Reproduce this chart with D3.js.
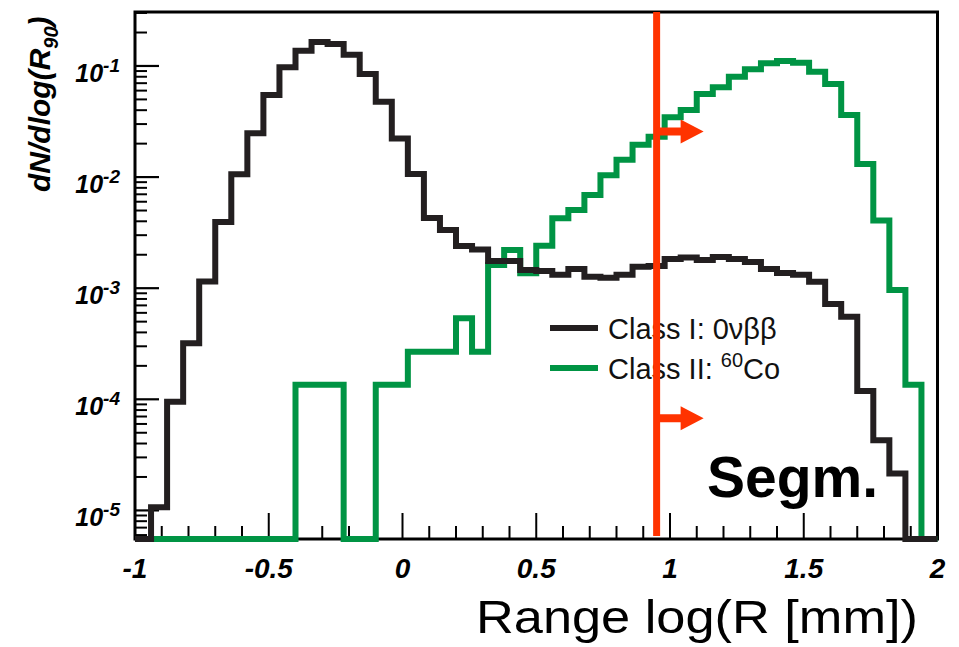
<!DOCTYPE html>
<html>
<head>
<meta charset="utf-8">
<script src="https://cdn.jsdelivr.net/npm/d3@7"></script>
<style>
  html, body { margin: 0; padding: 0; background: #ffffff; }
  svg { display: block; }
</style>
</head>
<body>
<svg id="chart" width="959" height="647"></svg>
<script>
// Histogram binning: 50 bins of log10(R/mm) from -1 to 2
const binLow = -1;
const binHigh = 2;
const binCount = 50;

// Class I: 0vbb, dN/dlog(R90) per bin (0 = empty bin)
const classI = [
  0, 1.07e-5, 9.5e-5, 3.19e-4, 1.15e-3, 3.94e-3, 1.06e-2, 2.48e-2, 5.48e-2, 9.73e-2,
  0.137, 0.164, 0.158, 0.126, 0.0847, 0.0477, 0.0223, 0.01067, 4.28e-3, 3.34e-3,
  2.40e-3, 2.23e-3, 1.76e-3, 1.76e-3, 1.46e-3, 1.43e-3, 1.32e-3, 1.49e-3, 1.27e-3, 1.24e-3,
  1.32e-3, 1.56e-3, 1.58e-3, 1.83e-3, 1.89e-3, 1.79e-3, 1.91e-3, 1.83e-3, 1.72e-3, 1.49e-3,
  1.37e-3, 1.32e-3, 1.14e-3, 7.21e-4, 5.54e-4, 1.19e-4, 4.27e-5, 2.15e-5, 0, 0
];

// Class II: 60Co, dN/dlog(R90) per bin (0 = empty bin)
const classII = [
  0, 0, 0, 0, 0, 0, 0, 0, 0, 0,
  1.35e-4, 1.35e-4, 1.35e-4, 0, 0, 1.35e-4, 1.35e-4, 2.68e-4, 2.68e-4, 2.68e-4,
  5.36e-4, 2.68e-4, 1.62e-3, 2.21e-3, 1.36e-3, 2.41e-3, 4.26e-3, 5.06e-3, 6.90e-3, 1.04e-2,
  1.43e-2, 1.95e-2, 2.31e-2, 3.45e-2, 0.0402, 0.0560, 0.0643, 0.0801, 0.0934, 0.106,
  0.111, 0.107, 0.0889, 0.0689, 0.0362, 0.0131, 4.06e-3, 9.64e-4, 1.35e-4, 0
];

// Axis ranges and tick labels
const yRange = [5.53e-6, 0.306];
const xMajorTicks = [-1, -0.5, 0, 0.5, 1, 1.5, 2];
const xTickLabels = ["-1", "-0.5", "0", "0.5", "1", "1.5", "2"];
const yDecades = [1e-5, 1e-4, 1e-3, 1e-2, 1e-1];
const yExponents = ["-5", "-4", "-3", "-2", "-1"];

// Selection cut on log(R) and the arrow levels marking the accepted side
const cutValue = 0.95;
const arrowLevels = [0.0257, 6.75e-5];

const legendItems = [
  { label: "Class I: 0νββ", color: "#231f20" },
  { label: "Class II: ", sup: "60", tail: "Co", color: "#009444" }
];

// ---------------------------------------------------------------
const svg = d3.select("#chart");
const frame = { left: 135, right: 937.5, top: 12, bottom: 539 };

const x = d3.scaleLinear().domain([binLow, binHigh]).range([frame.left, frame.right]);
const y = d3.scaleLog().domain(yRange).range([frame.bottom, frame.top]);

const binWidth = (binHigh - binLow) / binCount;
const edges = d3.range(binCount + 1).map(i => binLow + i * binWidth);

const tickFont = "'Liberation Sans', Arial, Helvetica, sans-serif";

// frame
svg.append("rect")
  .attr("x", frame.left).attr("y", frame.top)
  .attr("width", frame.right - frame.left).attr("height", frame.bottom - frame.top)
  .attr("fill", "none").attr("stroke", "#000").attr("stroke-width", 3);

// x ticks (inside, pointing up)
const xMinor = d3.range(0, 31).map(i => binLow + i * 0.1)
  .filter(v => !xMajorTicks.some(m => Math.abs(m - v) < 1e-9));
svg.append("g").selectAll("line").data(xMinor).join("line")
  .attr("x1", d => x(d)).attr("x2", d => x(d))
  .attr("y1", frame.bottom).attr("y2", frame.bottom - 13)
  .attr("stroke", "#000").attr("stroke-width", 2);
svg.append("g").selectAll("line").data(xMajorTicks).join("line")
  .attr("x1", d => x(d)).attr("x2", d => x(d))
  .attr("y1", frame.bottom).attr("y2", frame.bottom - 26)
  .attr("stroke", "#000").attr("stroke-width", 2);

svg.append("g").selectAll("text").data(xMajorTicks).join("text")
  .attr("x", d => x(d)).attr("y", 578)
  .attr("text-anchor", "middle")
  .attr("font-family", tickFont).attr("font-weight", "bold").attr("font-style", "italic")
  .attr("font-size", 28).attr("fill", "#000")
  .text((d, i) => xTickLabels[i]);

// y ticks (log, inside, pointing right)
const yMinor = [];
[-6, -5, -4, -3, -2, -1].forEach(e => {
  for (let k = 2; k <= 9; k++) {
    const v = k * Math.pow(10, e);
    if (v >= yRange[0] && v <= yRange[1]) yMinor.push(v);
  }
});
svg.append("g").selectAll("line").data(yMinor).join("line")
  .attr("x1", frame.left).attr("x2", frame.left + 12)
  .attr("y1", d => y(d)).attr("y2", d => y(d))
  .attr("stroke", "#000").attr("stroke-width", 2);
svg.append("g").selectAll("line").data(yDecades).join("line")
  .attr("x1", frame.left).attr("x2", frame.left + 24)
  .attr("y1", d => y(d)).attr("y2", d => y(d))
  .attr("stroke", "#000").attr("stroke-width", 2.2);

const yLab = svg.append("g").selectAll("text").data(yDecades).join("text")
  .attr("x", 120).attr("y", d => y(d) + 16)
  .attr("text-anchor", "end")
  .attr("font-family", tickFont).attr("font-weight", "bold").attr("font-style", "italic")
  .attr("fill", "#000");
yLab.append("tspan").attr("font-size", 25).text("10");
yLab.append("tspan").attr("font-size", 19).attr("dy", -10).text((d, i) => yExponents[i]);

// histograms drawn as step outlines; empty bins sit on the frame floor
const stepLine = d3.line()
  .x(d => x(d[0]))
  .y(d => d[1] > 0 ? y(d[1]) : frame.bottom)
  .curve(d3.curveStepAfter);

function stepPoints(values) {
  const pts = values.map((v, i) => [edges[i], v]);
  pts.push([edges[binCount], values[binCount - 1]]);
  return pts;
}

svg.append("path")
  .datum(stepPoints(classII))
  .attr("d", stepLine)
  .attr("fill", "none").attr("stroke", legendItems[1].color)
  .attr("stroke-width", 6).attr("stroke-linejoin", "miter");

svg.append("path")
  .datum(stepPoints(classI))
  .attr("d", stepLine)
  .attr("fill", "none").attr("stroke", legendItems[0].color)
  .attr("stroke-width", 6).attr("stroke-linejoin", "miter");

// legend
const legend = svg.append("g");
legendItems.forEach((item, i) => {
  const ly = 328 + i * 40;
  legend.append("line")
    .attr("x1", 550).attr("x2", 598).attr("y1", ly).attr("y2", ly)
    .attr("stroke", item.color).attr("stroke-width", 6);
  const t = legend.append("text")
    .attr("x", 608).attr("y", ly + 11)
    .attr("font-family", tickFont).attr("font-size", 29).attr("fill", "#111");
  t.append("tspan").text(item.label);
  if (item.sup) {
    t.append("tspan").attr("font-size", 20).attr("dy", -12).text(item.sup);
    t.append("tspan").attr("font-size", 29).attr("dy", 12).text(item.tail);
  }
});

// "Segm." tag
svg.append("text")
  .attr("x", 707).attr("y", 497)
  .attr("font-family", tickFont).attr("font-weight", "bold")
  .attr("font-size", 57).attr("fill", "#000")
  .text("Segm.");

// cut line and arrows
const red = "#ff3300";
const cx = x(cutValue);
svg.append("line")
  .attr("x1", cx).attr("x2", cx).attr("y1", frame.top).attr("y2", frame.bottom - 3)
  .attr("stroke", red).attr("stroke-width", 7);

svg.append("g").selectAll("path").data(arrowLevels).join("path")
  .attr("d", d => {
    const ay = y(d);
    const shaftEnd = cx + 24, tip = cx + 47;
    return `M${cx},${ay - 4} L${shaftEnd},${ay - 4} L${shaftEnd},${ay - 12} L${tip},${ay} ` +
           `L${shaftEnd},${ay + 12} L${shaftEnd},${ay + 4} L${cx},${ay + 4} Z`;
  })
  .attr("fill", red);

// axis titles
svg.append("text")
  .attr("x", 918).attr("y", 633)
  .attr("text-anchor", "end")
  .attr("font-family", tickFont).attr("font-size", 47).attr("fill", "#000")
  .attr("textLength", 442).attr("lengthAdjust", "spacingAndGlyphs")
  .text("Range log(R [mm])");

const yTitle = svg.append("text")
  .attr("transform", "translate(50,192) rotate(-90)")
  .attr("font-family", tickFont).attr("font-weight", "bold").attr("font-style", "italic")
  .attr("font-size", 30).attr("fill", "#000");
yTitle.append("tspan").text("dN/dlog(R");
yTitle.append("tspan").attr("font-size", 20).attr("dy", 8).text("90");
yTitle.append("tspan").attr("font-size", 30).attr("dy", -8).text(")");
</script>
</body>
</html>
